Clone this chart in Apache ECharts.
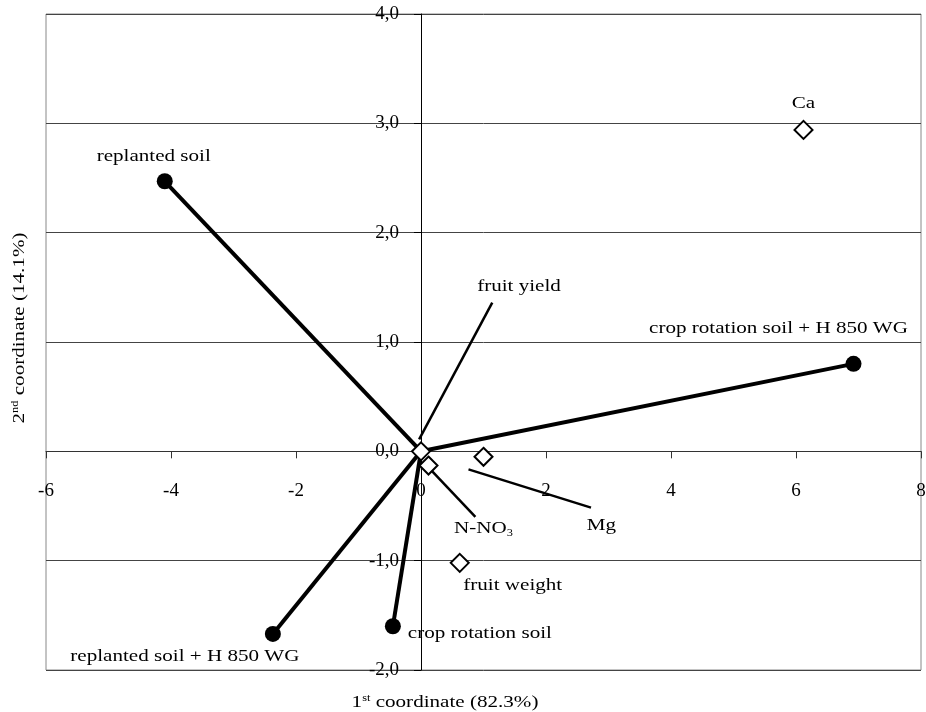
<!DOCTYPE html>
<html>
<head>
<meta charset="utf-8">
<script src="https://cdn.jsdelivr.net/npm/echarts@6/dist/echarts.min.js"></script>
<style>html,body{margin:0;padding:0;background:#fff;}#c{width:926px;height:712px;}</style>
</head>
<body>
<div id="c"></div>
<script>
// ---- data ----
const treatments = ['replanted soil', 'crop rotation soil + H 850 WG', 'replanted soil + H 850 WG', 'crop rotation soil'];
const treatX = [-4.10, 6.92, -2.37, -0.45];
const treatY = [2.47, 0.80, -1.67, -1.60];

const variables = ['fruit yield', 'N-NO3', 'Mg', 'fruit weight', 'Ca'];
const varX = [0.00, 0.12, 1.00, 0.62, 6.12];
const varY = [0.00, -0.13, -0.05, -1.02, 2.94];

// leader lines (start / end in data units)
const leaderNames = ['fruit yield', 'N-NO3', 'Mg'];
const leaderX0 = [-0.03, 0.15, 0.76];
const leaderY0 = [0.11, -0.165, -0.165];
const leaderX1 = [1.14, 0.87, 2.72];
const leaderY1 = [1.36, -0.60, -0.515];

const xTicks = { min: -6, max: 8, interval: 2 };
const yTicks = { min: -2, max: 4, interval: 1 };

// ---- styles ----
const FONT = '"Liberation Serif", "Times New Roman", serif';
const STRETCH = 1.24;
const GRID = { left: 46, right: 5, top: 14, bottom: 42 };
const PLOT_W = 926 - GRID.left - GRID.right;
const PLOT_H = 712 - GRID.top - GRID.bottom;
// place axes on the zero lines of the other axis
const xAxisOffset = -PLOT_H * (0 - yTicks.min) / (yTicks.max - yTicks.min);
const yAxisOffset = -PLOT_W * (0 - xTicks.min) / (xTicks.max - xTicks.min);

const labelOffset = {
  'replanted soil': [-11, -25],
  'crop rotation soil + H 850 WG': [-75, -35],
  'replanted soil + H 850 WG': [-88, 23],
  'crop rotation soil': [87, 7],
  'fruit yield': [98, -165],
  'N-NO3': [55, 63],
  'Mg': [118, 69],
  'fruit weight': [53, 23],
  'Ca': [0, -26]
};
function labelText(n) {
  return n === 'N-NO3' ? 'N-NO{sub|3}' : n;
}
const richDefs = {
  sub: { fontSize: 10, fontFamily: FONT, fill: '#000', padding: [9, 0, 0, 0] },
  sup: { fontSize: 10, fontFamily: FONT, fill: '#000', padding: [0, 0, 9, 0] }
};

function labelSeries(names, xs, ys) {
  return {
    type: 'custom',
    coordinateSystem: 'cartesian2d',
    silent: true,
    clip: false,
    z: 20,
    data: names.map((n, i) => [xs[i], ys[i], i]),
    renderItem: function (params, api) {
      const i = api.value(2);
      const p = api.coord([api.value(0), api.value(1)]);
      const off = labelOffset[names[i]];
      return {
        type: 'text',
        x: p[0] + off[0],
        y: p[1] + off[1],
        scaleX: STRETCH,
        style: {
          text: labelText(names[i]),
          fontSize: 17,
          fontFamily: FONT,
          fill: '#000',
          align: 'center',
          verticalAlign: 'middle',
          rich: richDefs
        }
      };
    }
  };
}

const series = [];
treatments.forEach((n, i) => {
  series.push({
    type: 'line',
    data: [[0, 0], [treatX[i], treatY[i]]],
    symbol: 'none',
    silent: true,
    z: 3,
    lineStyle: { color: '#000', width: 4 }
  });
});
leaderNames.forEach((n, i) => {
  series.push({
    type: 'line',
    data: [[leaderX0[i], leaderY0[i]], [leaderX1[i], leaderY1[i]]],
    symbol: 'none',
    silent: true,
    z: 3,
    lineStyle: { color: '#000', width: 2.5 }
  });
});
series.push({
  type: 'scatter',
  data: treatments.map((n, i) => [treatX[i], treatY[i]]),
  symbol: 'circle',
  symbolSize: 16,
  z: 5,
  itemStyle: { color: '#000', opacity: 1 }
});
series.push({
  type: 'scatter',
  data: variables.map((n, i) => [varX[i], varY[i]]),
  symbol: 'diamond',
  symbolSize: [18, 18],
  z: 6,
  itemStyle: { color: '#fff', borderColor: '#000', borderWidth: 2, opacity: 1 }
});
series.push(labelSeries(treatments, treatX, treatY));
series.push(labelSeries(variables, varX, varY));

const chart = echarts.init(document.getElementById('c'), null, { renderer: 'canvas' });
chart.setOption({
  animation: false,
  backgroundColor: '#fff',
  grid: {
    left: GRID.left, right: GRID.right, top: GRID.top, bottom: GRID.bottom,
    outerBoundsMode: 'none', containLabel: false,
    show: true, borderColor: '#888', borderWidth: 1, backgroundColor: 'transparent'
  },
  xAxis: {
    type: 'value', position: 'bottom', offset: xAxisOffset,
    min: xTicks.min, max: xTicks.max, interval: xTicks.interval,
    axisLine: { show: true, onZero: false, lineStyle: { color: '#333', width: 1 } },
    axisTick: { show: true, inside: false, length: 7, lineStyle: { color: '#333' } },
    axisLabel: { margin: 30, color: '#000', fontFamily: FONT, fontSize: 19, hideOverlap: false },
    splitLine: { show: false }
  },
  yAxis: {
    type: 'value', position: 'left', offset: yAxisOffset,
    min: yTicks.min, max: yTicks.max, interval: yTicks.interval,
    axisLine: { show: true, onZero: false, lineStyle: { color: '#000', width: 1 } },
    axisTick: { show: true, inside: false, length: 7, lineStyle: { color: '#000' } },
    axisLabel: {
      margin: 22, color: '#000', fontFamily: FONT, fontSize: 19, padding: [8, 0, 0, 0], hideOverlap: false,
      formatter: v => v.toFixed(1).replace('.', ',')
    },
    splitLine: { show: true, lineStyle: { color: '#444', width: 1 } }
  },
  graphic: [
    {
      type: 'text', x: 445, y: 703, scaleX: STRETCH, z: 30,
      style: {
        text: '1{sup|st} coordinate (82.3%)', fontSize: 17, fontFamily: FONT, fill: '#000',
        align: 'center', verticalAlign: 'middle', rich: richDefs
      }
    },
    {
      type: 'text', x: 20, y: 328, rotation: Math.PI / 2, scaleX: STRETCH, z: 30,
      style: {
        text: '2{sup|nd} coordinate (14.1%)', fontSize: 17, fontFamily: FONT, fill: '#000',
        align: 'center', verticalAlign: 'middle', rich: richDefs
      }
    }
  ],
  series: series
});
</script>
</body>
</html>
